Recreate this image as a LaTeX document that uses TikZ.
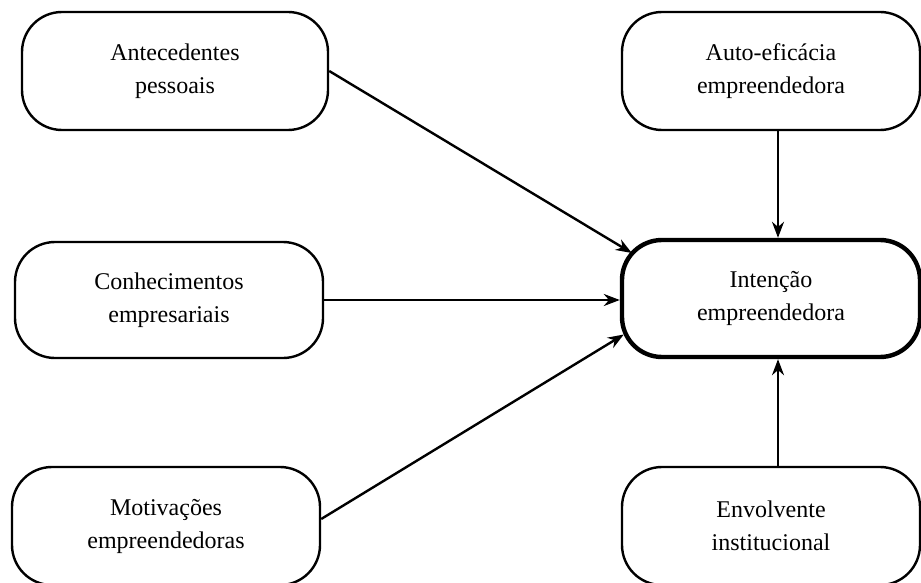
\documentclass[tikz,border=0pt]{standalone}
\usepackage{fontspec}
\setmainfont{Liberation Serif}
\usepackage{tikz}
\usetikzlibrary{arrows.meta}
\usetikzlibrary{positioning}

\begin{document}
\begin{tikzpicture}[
		x=0.5pt, y=-0.5pt,
		every node/.style={font=\fontsize{12}{16.5}\selectfont},
		box/.style={draw, line width=1.2pt, rounded corners=20pt, minimum width=153pt, minimum height=59pt, align=center},
		mainbox/.style={box, line width=2.2pt, minimum width=149pt, minimum height=58.5pt},
		infarrow/.style={draw, line width=1.2pt, -{Stealth[length=8pt, width=6pt]}}
	]

	\useasboundingbox (0,0) rectangle (921,583);

	% Left column
	\node[box] (ante) at (175,71) {Antecedentes\\pessoais};
	\node[box, minimum width=154pt, minimum height=58pt] (conhe) at (169,300) {Conhecimentos\\empresariais};
	\node[box, minimum width=154pt] (motiv) at (166,526) {Motivações\\empreendedoras};

	% Right column
	\node[box, minimum width=149pt] (auto) at (771,71) {Auto-eficácia\\empreendedora};
	\node[mainbox] (intencao) at (771,298.5) {Intenção\\empreendedora};
	\node[box, minimum width=149pt] (envolv) at (771,526) {Envolvente\\institucional};

	% Arrows
	\draw[infarrow] (ante.east) -- ([xshift=6pt, yshift=22.75pt]intencao.west);
	\draw[infarrow] (conhe.east) -- (conhe.east -| intencao.west);
	\draw[infarrow] ([yshift=3.5pt]motiv.east) -- ([xshift=2pt, yshift=-18pt]intencao.west);
	\draw[infarrow] ([xshift=3.5pt]auto.south) -- ([xshift=3.5pt]intencao.north);
	\draw[infarrow] ([xshift=3.5pt]envolv.north) -- ([xshift=3.5pt]intencao.south);

\end{tikzpicture}
\end{document}
